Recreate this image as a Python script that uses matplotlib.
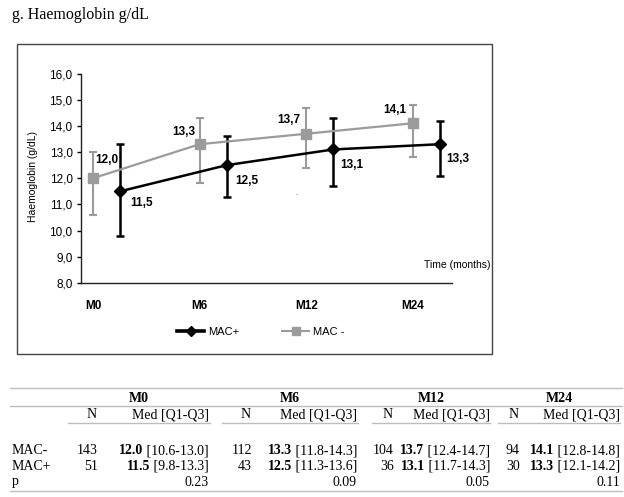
import matplotlib
matplotlib.use("Agg")
import matplotlib.pyplot as plt
from matplotlib.lines import Line2D
from matplotlib.patches import Rectangle
import numpy as np

# ---------------- data ----------------
timepoints = ["M0", "M6", "M12", "M24"]
mac_minus_med = [12.0, 13.3, 13.7, 14.1]
mac_minus_q1 = [10.6, 11.8, 12.4, 12.8]
mac_minus_q3 = [13.0, 14.3, 14.7, 14.8]
mac_plus_med = [11.5, 12.5, 13.1, 13.3]
mac_plus_q1 = [9.8, 11.3, 11.7, 12.1]
mac_plus_q3 = [13.3, 13.6, 14.3, 14.2]
mac_minus_n = [143, 112, 104, 94]
mac_plus_n = [51, 43, 36, 30]
p_values = ["0.23", "0.09", "0.05", "0.11"]
yticks = [8, 9, 10, 11, 12, 13, 14, 15, 16]

# ---------------- style ----------------
W, H = 624, 497
GRAY = "#9b9b9b"
SANS = "Liberation Sans"
SERIF = "Liberation Serif"
# label offsets in pixels (dx, dy; dy positive = up)
minus_offsets = [(14, 18), (-16, 12), (-18, 14), (-18, 13)]
plus_offsets = [(22, -12), (20, -16), (18, -16), (18, -15)]

fig = plt.figure(figsize=(W / 100, H / 100), dpi=100)

def fx(x):
    return x / W

def fy(y):
    return 1 - y / H

# title
fig.text(fx(12), fy(15), "g. Haemoglobin g/dL", family=SERIF, fontsize=11.5,
         va="center", ha="left")

# frame box
fig.add_artist(Rectangle((fx(17), fy(354)), fx(492) - fx(17), fy(44) - fy(354),
                         transform=fig.transFigure, fill=False,
                         edgecolor="#444444", linewidth=1.0))

# axes
ax_l, ax_r, ax_t, ax_b = 81, 452, 73.5, 283
ax = fig.add_axes([fx(ax_l), fy(ax_b), fx(ax_r) - fx(ax_l), fy(ax_t) - fy(ax_b)])
ax.patch.set_alpha(0)
for s in ["top", "right"]:
    ax.spines[s].set_visible(False)
for s in ["left", "bottom"]:
    ax.spines[s].set_color("#222222")
    ax.spines[s].set_linewidth(1.0)

x = np.arange(len(timepoints))
shift = 0.253
xm = x
xp = x + shift

mm = np.array(mac_minus_med); mp = np.array(mac_plus_med)
ax.errorbar(xm, mm, yerr=[mm - np.array(mac_minus_q1), np.array(mac_minus_q3) - mm],
            fmt="none", ecolor=GRAY, elinewidth=1.5, capsize=3, capthick=1.5, zorder=2)
ax.errorbar(xp, mp, yerr=[mp - np.array(mac_plus_q1), np.array(mac_plus_q3) - mp],
            fmt="none", ecolor="black", elinewidth=1.8, capsize=3, capthick=1.8, zorder=3)
l_minus, = ax.plot(xm, mm, color=GRAY, lw=1.6, marker="s", ms=6.5, mec=GRAY, mfc=GRAY,
                   zorder=4, label="MAC -")
l_plus, = ax.plot(xp, mp, color="black", lw=1.8, marker="D", ms=6, zorder=5,
                  label="MAC+")

def fmt(v):
    return f"{v:.1f}".replace(".", ",")

for xi, v, (dx, dy) in zip(xm, mm, minus_offsets):
    ax.annotate(fmt(v), (xi, v), xytext=(dx * 0.72, dy * 0.72), textcoords="offset points",
                ha="center", va="center", fontsize=8.5, fontweight="bold", family=SANS)
for xi, v, (dx, dy) in zip(xp, mp, plus_offsets):
    ax.annotate(fmt(v), (xi, v), xytext=(dx * 0.72, dy * 0.72), textcoords="offset points",
                ha="center", va="center", fontsize=8.5, fontweight="bold", family=SANS)

ax.set_ylim(8, 16)
ax.set_xlim(-0.1125, 3.365)
ax.set_yticks(yticks)
ax.set_yticklabels([fmt(v) for v in yticks], family=SANS, fontsize=8.5)
ax.tick_params(axis="y", length=3, width=1, pad=3, direction="out")
ax.set_xticks(xm)
ax.set_xticklabels(timepoints, family=SANS, fontsize=8.5, fontweight="bold")
ax.tick_params(axis="x", length=0, pad=12)

fig.text(fx(33), fy(176), "Haemoglobin (g/dL)", rotation=90, family=SANS, fontsize=7.5,
         ha="center", va="center")
fig.text(fx(490), fy(265), "Time (months)", family=SANS, fontsize=7.5,
         ha="right", va="center")
fig.text(fx(297), fy(195), "-", family=SANS, fontsize=5, color="#777777",
         ha="center", va="center")

h_plus = Line2D([], [], color="black", lw=2.6, marker="D", ms=5)
h_minus = Line2D([], [], color=GRAY, lw=1.5, marker="s", ms=5.5)
fig.legend([h_plus, h_minus], ["MAC+", "MAC -"], loc="center",
           bbox_to_anchor=(fx(261), fy(332)), ncol=2, frameon=False,
           prop={"family": SANS, "size": 8}, handlelength=2.4, handletextpad=0.35,
           columnspacing=3.9)

# ---------------- table ----------------
LINE = "#bdbdbd"
def hline(y, x0, x1):
    fig.add_artist(Line2D([fx(x0), fx(x1)], [fy(y), fy(y)], transform=fig.transFigure,
                          color=LINE, lw=1.0))

hline(388, 10, 622)
hline(406, 10, 622)
hline(491, 10, 622)
groups = [(68, 210), (222, 358), (372, 490), (498, 620)]
for g0, g1 in groups:
    hline(423, g0, g1)

n_right = [98, 252, 394, 520]
med_right = [209, 357, 490, 620]
y_head, y_sub, y_minus, y_plus, y_p = 398, 415, 451, 466, 482
FS = 10

for i, tp in enumerate(timepoints):
    g0, g1 = groups[i]
    fig.text(fx((g0 + g1) / 2), fy(y_head), tp, family=SERIF, fontsize=FS,
             fontweight="bold", ha="center", va="center")
    fig.text(fx(n_right[i] - 1), fy(y_sub), "N", family=SERIF, fontsize=FS,
             ha="right", va="center")
    fig.text(fx(med_right[i]), fy(y_sub), "Med [Q1-Q3]", family=SERIF, fontsize=FS,
             ha="right", va="center")

for lab, yy in [("MAC-", y_minus), ("MAC+", y_plus), ("p", y_p)]:
    fig.text(fx(12), fy(yy), lab, family=SERIF, fontsize=FS, ha="left", va="center")

renderer = fig.canvas.get_renderer()

def med_cell(xr, yy, med, q1, q3):
    t = fig.text(fx(xr), fy(yy), f" [{q1:.1f}-{q3:.1f}]", family=SERIF, fontsize=FS,
                 ha="right", va="center")
    bb = t.get_window_extent(renderer)
    fig.text(bb.x0 / fig.bbox.width, fy(yy), f"{med:.1f}", family=SERIF, fontsize=FS,
             fontweight="bold", ha="right", va="center")

for i in range(len(timepoints)):
    fig.text(fx(n_right[i]), fy(y_minus), str(mac_minus_n[i]), family=SERIF, fontsize=FS,
             ha="right", va="center")
    fig.text(fx(n_right[i]), fy(y_plus), str(mac_plus_n[i]), family=SERIF, fontsize=FS,
             ha="right", va="center")
    med_cell(med_right[i], y_minus, mac_minus_med[i], mac_minus_q1[i], mac_minus_q3[i])
    med_cell(med_right[i], y_plus, mac_plus_med[i], mac_plus_q1[i], mac_plus_q3[i])
    fig.text(fx(med_right[i]), fy(y_p), p_values[i], family=SERIF, fontsize=FS,
             ha="right", va="center")

fig.savefig("out.png", dpi=100)
